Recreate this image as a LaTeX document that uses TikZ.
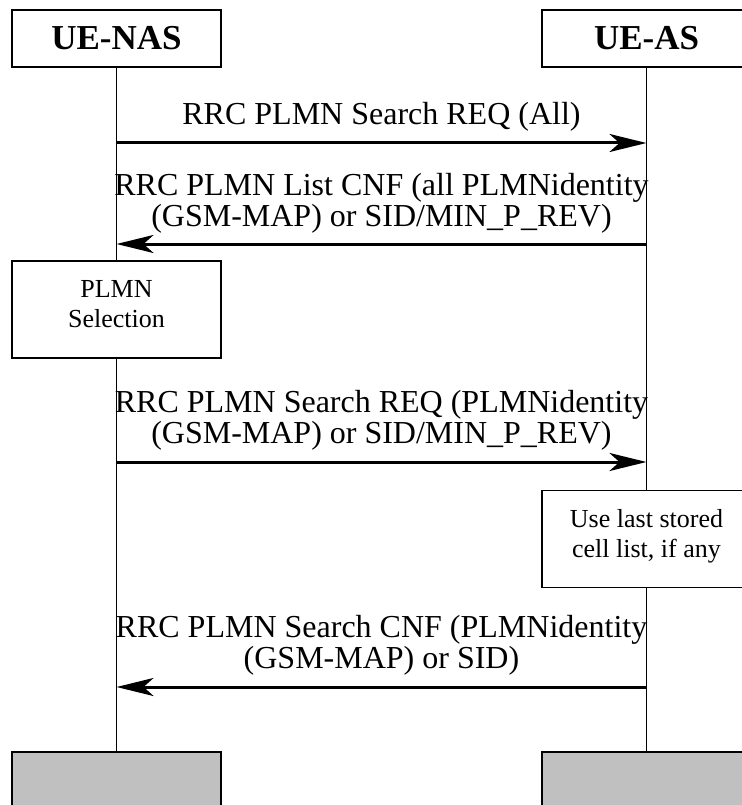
\documentclass[tikz,border=0pt]{standalone}
\usepackage{fontspec}
\setmainfont{Liberation Serif}
\usepackage{tikz}
\usetikzlibrary{arrows.meta,positioning}
\usepackage{xcolor}
\definecolor{mscgray}{RGB}{192,192,192}
\tikzstyle{entity} = [rectangle, minimum width=209pt, minimum height=57pt, text centered, draw=black, fill=white, line width=1.5pt, inner sep=0pt, font=\fontsize{35}{38}\selectfont\bfseries]
\tikzstyle{endbox} = [rectangle, minimum width=209pt, minimum height=60pt, draw=black, fill=mscgray, line width=1.5pt]
\tikzstyle{actionbox} = [rectangle, minimum width=209pt, minimum height=97pt, align=center, draw=black, fill=white, line width=1.5pt, inner sep=0pt, font=\fontsize{26}{30}\selectfont]
\tikzstyle{msgtext} = [align=center, anchor=south, inner sep=0pt, font=\fontsize{32}{31}\selectfont]
\tikzstyle{arrow} = [line width=3pt, -{Stealth[length=37pt,width=18pt,inset=10pt]}]
\tikzstyle{lifeline} = [line width=1.3pt]
\newcommand{\lowstrut}{\rule[-11pt]{0pt}{0pt}}

\begin{document}
\begin{tikzpicture}[x=1pt, y=-1pt]
\useasboundingbox (0,0) rectangle (741,805);

% Entities
\node[entity] (nas) at (116.5,38.5) {UE-NAS};
\node[entity] (as) at (646.5,38.5) {UE-AS};
\node[endbox] (nasend) at (116.5,782) {};
\node[endbox] (asend) at (646.5,782) {};

% Lifelines
\draw[lifeline] (nas) -- (nasend);
\draw[lifeline] (as) -- (asend);

% Search request (all)
\coordinate (m1a) at (116.5,143);
\coordinate (m1b) at (646.5,143);
\node[msgtext] (m1) at (381.5,132) {RRC PLMN Search REQ (All)};
\draw[arrow] (m1a) -- (m1b);

% List confirm
\coordinate (m2a) at (116.5,244);
\coordinate (m2b) at (646.5,244);
\node[msgtext] (m2) at (381.5,234) {RRC PLMN List CNF (all PLMNidentity\\(GSM-MAP) or SID/MIN\_P\_REV)};
\draw[arrow] (m2b) -- (m2a);

% PLMN selection
\node[actionbox] (sel) at (116.5,309.5) {PLMN\\Selection\lowstrut};

% Search request (selected)
\coordinate (m3a) at (116.5,462);
\coordinate (m3b) at (646.5,462);
\node[msgtext] (m3) at (381.5,451) {RRC PLMN Search REQ (PLMNidentity\\(GSM-MAP) or SID/MIN\_P\_REV)};
\draw[arrow] (m3a) -- (m3b);

% Stored cells
\node[actionbox] (cells) at (646.5,539) {Use last stored\\cell list, if any\lowstrut};

% Search confirm
\coordinate (m4a) at (116.5,687);
\coordinate (m4b) at (646.5,687);
\node[msgtext] (m4) at (381.5,676) {RRC PLMN Search CNF (PLMNidentity\\(GSM-MAP) or SID)};
\draw[arrow] (m4b) -- (m4a);
\end{tikzpicture}
\end{document}
